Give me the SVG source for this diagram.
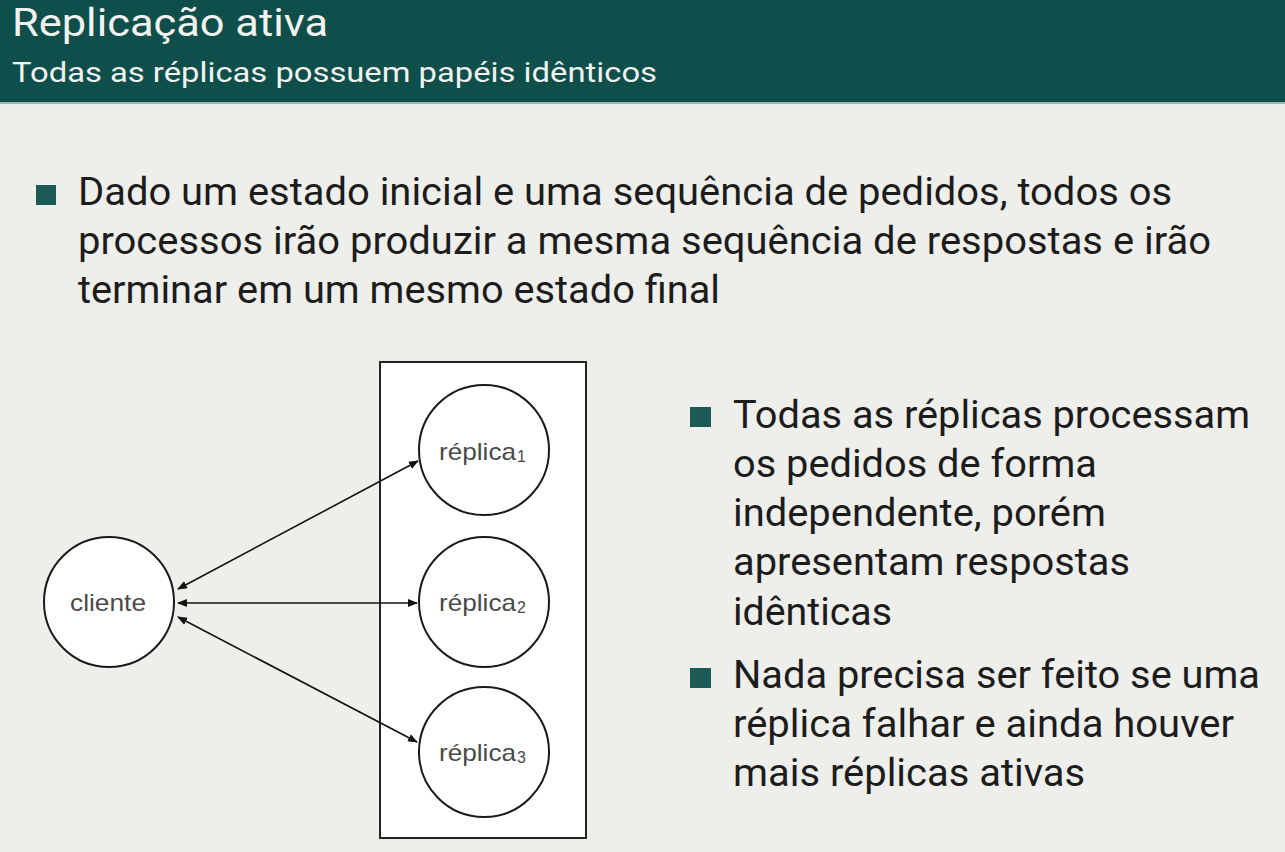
<svg xmlns="http://www.w3.org/2000/svg" width="1285" height="852" viewBox="0 0 1285 852">
<defs>
<style>
.txt{font-family:Roboto,"Liberation Sans",sans-serif;fill:#1c1c1c;font-size:39px}
.hd{font-family:Roboto,"Liberation Sans",sans-serif;fill:#f2f2f0}
.lbl{font-family:"Liberation Sans",Arial,sans-serif;fill:#4a4a4a;font-size:24px}
.sub{font-size:16px}
.node{fill:#fff;stroke:#1a1a1a;stroke-width:2}
.conn{stroke:#111;stroke-width:1.6;fill:none;marker-start:url(#ah);marker-end:url(#ah)}
.sq{fill:#1b5a55}
</style>
<marker id="ah" viewBox="0 0 10 10" refX="9" refY="5" markerWidth="10" markerHeight="10" markerUnits="userSpaceOnUse" orient="auto-start-reverse">
<path d="M0,1 L10,5 L0,9 Z" fill="#111"/>
</marker>
</defs>
<rect width="1285" height="852" fill="#eeeeea"/>
<g id="header">
<rect x="0" y="0" width="1285" height="102" fill="#0e4f4b"/>
<rect x="0" y="102" width="1285" height="2" fill="#9fb7b2"/>
<text class="hd" x="12" y="36" font-size="38" textLength="316" lengthAdjust="spacingAndGlyphs">Replicação ativa</text>
<text class="hd" x="12" y="82" font-size="28" textLength="645" lengthAdjust="spacingAndGlyphs">Todas as réplicas possuem papéis idênticos</text>
</g>
<g id="bullet1">
<rect class="sq" x="36" y="185" width="20" height="20"/>
<text class="txt" x="78" y="205" textLength="1094" lengthAdjust="spacingAndGlyphs">Dado um estado inicial e uma sequência de pedidos, todos os</text>
<text class="txt" x="78" y="254" textLength="1133" lengthAdjust="spacingAndGlyphs">processos irão produzir a mesma sequência de respostas e irão</text>
<text class="txt" x="78" y="303" textLength="642" lengthAdjust="spacingAndGlyphs">terminar em um mesmo estado final</text>
</g>
<g id="bullet2">
<rect class="sq" x="690" y="407" width="21" height="20"/>
<text class="txt" x="733" y="428" textLength="517" lengthAdjust="spacingAndGlyphs">Todas as réplicas processam</text>
<text class="txt" x="733" y="477" textLength="364" lengthAdjust="spacingAndGlyphs">os pedidos de forma</text>
<text class="txt" x="733" y="526" textLength="373" lengthAdjust="spacingAndGlyphs">independente, porém</text>
<text class="txt" x="733" y="575" textLength="397" lengthAdjust="spacingAndGlyphs">apresentam respostas</text>
<text class="txt" x="733" y="625" textLength="159" lengthAdjust="spacingAndGlyphs">idênticas</text>
</g>
<g id="bullet3">
<rect class="sq" x="690" y="668" width="21" height="20"/>
<text class="txt" x="733" y="688" textLength="527" lengthAdjust="spacingAndGlyphs">Nada precisa ser feito se uma</text>
<text class="txt" x="733" y="737" textLength="501" lengthAdjust="spacingAndGlyphs">réplica falhar e ainda houver</text>
<text class="txt" x="733" y="786" textLength="352" lengthAdjust="spacingAndGlyphs">mais réplicas ativas</text>
</g>
<g id="group-box">
<rect x="380" y="362" width="206" height="476" fill="#fff" stroke="#222" stroke-width="2"/>
</g>
<g id="connectors">
<line class="conn" x1="178" y1="589" x2="418" y2="461"/>
<line class="conn" x1="178" y1="603" x2="417" y2="603"/>
<line class="conn" x1="178" y1="617" x2="417" y2="742"/>
</g>
<g id="cliente">
<circle class="node" cx="109" cy="602" r="65"/>
<text class="lbl" x="70" y="611" textLength="76" lengthAdjust="spacingAndGlyphs">cliente</text>
</g>
<g id="replica1">
<circle class="node" cx="484" cy="450" r="65"/>
<text class="lbl" x="439" y="460"><tspan textLength="77" lengthAdjust="spacingAndGlyphs">réplica</tspan><tspan class="sub" dx="1" dy="2">1</tspan></text>
</g>
<g id="replica2">
<circle class="node" cx="484" cy="602" r="65"/>
<text class="lbl" x="439" y="611"><tspan textLength="77" lengthAdjust="spacingAndGlyphs">réplica</tspan><tspan class="sub" dx="1" dy="2">2</tspan></text>
</g>
<g id="replica3">
<circle class="node" cx="484" cy="752" r="65"/>
<text class="lbl" x="439" y="761"><tspan textLength="77" lengthAdjust="spacingAndGlyphs">réplica</tspan><tspan class="sub" dx="1" dy="2">3</tspan></text>
</g>
</svg>
